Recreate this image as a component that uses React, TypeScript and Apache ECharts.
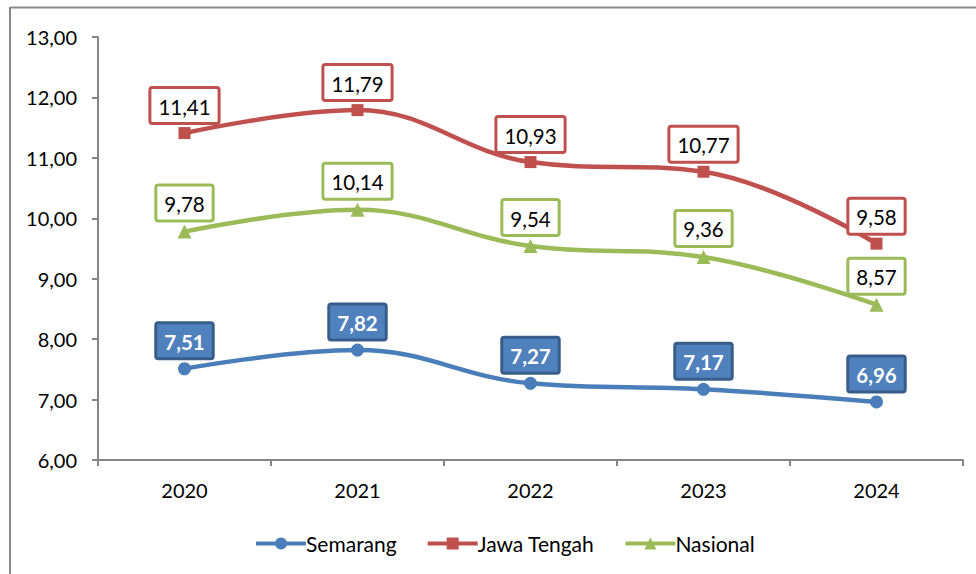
import React, { useEffect, useRef } from "react";
import * as echarts from "echarts";

const years = ["2020", "2021", "2022", "2023", "2024"];
const semarang = [7.51, 7.82, 7.27, 7.17, 6.96];
const jawaTengah = [11.41, 11.79, 10.93, 10.77, 9.58];
const nasional = [9.78, 10.14, 9.54, 9.36, 8.57];
const seriesNames = ["Semarang", "Jawa Tengah", "Nasional"];

const FONT = "Lato";
const fmt = (v: number) => v.toFixed(2).replace(".", ",");

export default function App() {
  const ref = useRef<HTMLDivElement>(null);
  useEffect(() => {
    document.body.style.margin = "0";
    const chart = echarts.init(ref.current!, null, { renderer: "svg" });
    const whiteLabel = (color: string) => ({
      show: true,
      position: "top",
      distance: 5,
      formatter: (p: any) => fmt(p.value),
      fontFamily: FONT,
      fontSize: 20.5,
      color: "#000",
      backgroundColor: "#fff",
      borderColor: color,
      borderWidth: 3,
      borderRadius: 1,
      padding: [7, 7, 5, 7],
    });
    chart.setOption({
      animation: false,
      textStyle: { fontFamily: FONT },
      grid: { left: 98, right: 13, top: 37, bottom: 114, containLabel: false },
      graphic: [
        { type: "line", shape: { x1: 10, y1: 7.5, x2: 976, y2: 7.5 }, style: { stroke: "#888", lineWidth: 2 } },
        { type: "line", shape: { x1: 10, y1: 7, x2: 10, y2: 574 }, style: { stroke: "#888", lineWidth: 2 } },
      ],
      legend: {
        data: seriesNames,
        left: 249,
        top: 528,
        itemWidth: 50,
        itemHeight: 15,
        itemGap: 29,
        lineStyle: { width: 4 },
        textStyle: { fontFamily: FONT, fontSize: 21, color: "#000", padding: [0, 0, 0, -5] },
      },
      xAxis: {
        type: "category",
        data: years,
        boundaryGap: true,
        axisLine: { lineStyle: { color: "#868686", width: 2 } },
        axisTick: { show: true, length: 6, inside: false, lineStyle: { color: "#868686", width: 2 } },
        axisLabel: { fontFamily: FONT, fontSize: 20, color: "#000", margin: 20 },
        splitLine: { show: false },
      },
      yAxis: {
        type: "value",
        min: 6,
        max: 13,
        interval: 1,
        axisLine: { show: true, lineStyle: { color: "#868686", width: 2 } },
        axisTick: { show: true, length: 6, inside: false, lineStyle: { color: "#868686", width: 2 } },
        axisLabel: { fontFamily: FONT, fontSize: 20, color: "#000", margin: 21, formatter: (v: number) => fmt(v) },
        splitLine: { show: false },
      },
      series: [
        {
          name: "Semarang",
          type: "line",
          data: semarang,
          smooth: 0.4,
          symbol: "circle",
          symbolSize: 13,
          color: "#4A7EBB",
          lineStyle: { width: 4.5, color: "#4A7EBB" },
          itemStyle: { color: "#4A7EBB" },
          label: {
            show: true,
            position: "top",
            distance: 5,
            formatter: (p: any) => fmt(p.value),
            fontFamily: FONT,
            fontSize: 20.5,
            fontWeight: "bold",
            color: "#fff",
            backgroundColor: "#4F81BD",
            borderColor: "#385D8A",
            borderWidth: 3,
            borderRadius: 1,
            padding: [7, 7, 5, 7],
          },
        },
        {
          name: "Jawa Tengah",
          type: "line",
          data: jawaTengah,
          smooth: 0.4,
          symbol: "rect",
          symbolSize: 12,
          color: "#C0504D",
          lineStyle: { width: 4.5, color: "#C0504D" },
          itemStyle: { color: "#C0504D" },
          label: whiteLabel("#C0504D"),
        },
        {
          name: "Nasional",
          type: "line",
          data: nasional,
          smooth: 0.4,
          symbol: "triangle",
          symbolSize: 14,
          color: "#9BBB59",
          lineStyle: { width: 4.5, color: "#9BBB59" },
          itemStyle: { color: "#9BBB59" },
          label: whiteLabel("#9BBB59"),
        },
      ],
    });
    return () => chart.dispose();
  }, []);
  return <div ref={ref} style={{ width: 976, height: 574, background: "#fff" }} />;
}
